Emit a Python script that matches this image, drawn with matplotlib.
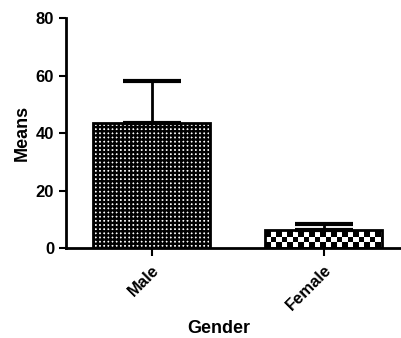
import matplotlib
matplotlib.use('Agg')
import matplotlib.pyplot as plt
import numpy as np

plt.rcParams['font.family'] = ['Liberation Sans', 'DejaVu Sans']
plt.rcParams['font.weight'] = 'bold'
plt.rcParams['hatch.linewidth'] = 1.7

groups = ['Male', 'Female']
means = [43.5, 6.2]
errs = [14.8, 2.1]

fig = plt.figure(figsize=(4.01, 3.38), dpi=100)
ax = fig.add_axes([0.1646, 0.266, 0.835, 0.680])

x = np.arange(len(groups))
bars = ax.bar(x, means, width=0.68, color='white', edgecolor='black', linewidth=0, zorder=1)
bars[0].set_hatch('++++')
ax.set_xlim(-0.5, 1.45)
ax.set_ylim(0, 80)

# checkerboard fill for the female bar
cell = 5.5
b = bars[1]
p0 = ax.transData.transform((b.get_x(), b.get_y()))
p1 = ax.transData.transform((b.get_x() + b.get_width(), b.get_y() + b.get_height()))
nx = int((p1[0] - p0[0]) / cell) + 1
ny = int((p1[1] - p0[1]) / cell) + 1
dx = b.get_width() * cell / (p1[0] - p0[0])
dy = b.get_height() * cell / (p1[1] - p0[1])
board = np.add.outer(np.arange(ny), np.arange(nx)) % 2
im = ax.imshow(board, cmap='gray', interpolation='nearest', aspect='auto', origin='lower',
               extent=(b.get_x(), b.get_x() + nx * dx, b.get_y(), b.get_y() + ny * dy), zorder=1.5)
im.set_clip_path(b)

ax.bar(x, means, width=0.68, fill=False, edgecolor='black', linewidth=2, zorder=2)
ax.errorbar(x, means, yerr=[[0] * len(errs), errs], fmt='none', ecolor='black',
            elinewidth=2, capsize=21, capthick=3, zorder=2)

ax.set_xlim(-0.5, 1.45)
ax.set_ylim(0, 80)
ax.set_yticks([0, 20, 40, 60, 80])
ax.set_xticks(x)
ax.set_xticklabels(groups, rotation=45, ha='right', va='top', rotation_mode='anchor',
                   fontsize=12, fontweight='bold')
ax.tick_params(axis='y', labelsize=12, width=1.5, length=5)
ax.tick_params(axis='x', width=1.5, length=6, pad=4)
for t in ax.get_yticklabels():
    t.set_fontweight('bold')

ax.spines['top'].set_visible(False)
ax.spines['right'].set_visible(False)
ax.spines['left'].set_linewidth(2)
ax.spines['bottom'].set_linewidth(2)

ax.set_xlabel('Gender', fontsize=13, fontweight='bold', va='center')
ax.set_ylabel('Means', fontsize=13, fontweight='bold', va='center')
ax.xaxis.set_label_coords(0.455, -0.352)
ax.yaxis.set_label_coords(-0.131, 0.50)

fig.savefig('out.png', dpi=100)
